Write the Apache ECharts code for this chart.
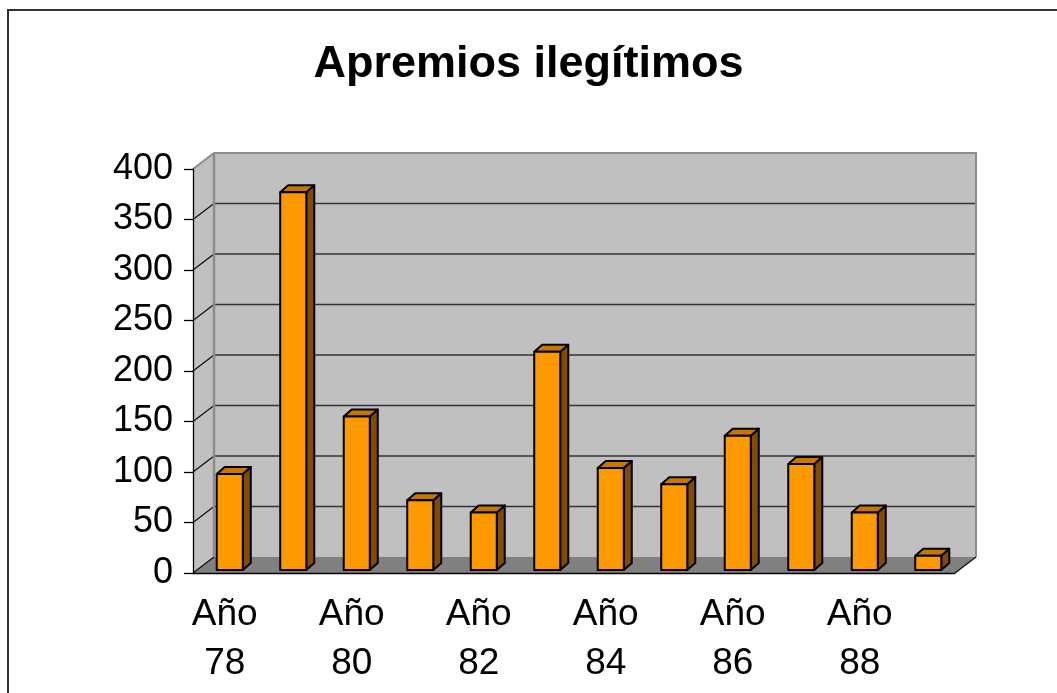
<!DOCTYPE html>
<html>
<head>
<meta charset="utf-8">
<script src="https://cdn.jsdelivr.net/npm/echarts@6/dist/echarts.min.js"></script>
<style>
  html, body { margin: 0; padding: 0; background: #fff; }
  #chart { width: 1057px; height: 693px; }
</style>
</head>
<body>
<div id="chart"></div>
<script>
// datos del gráfico
var years = ['Año 78', 'Año 79', 'Año 80', 'Año 81', 'Año 82', 'Año 83',
             'Año 84', 'Año 85', 'Año 86', 'Año 87', 'Año 88', 'Año 89'];
var apremios = [95, 374, 152, 69, 57, 216, 101, 85, 133, 105, 57, 14];
var yTicks = [0, 50, 100, 150, 200, 250, 300, 350, 400];

// desplazamiento "3D" de la pared del fondo
var DX = 21, DY = 16;

var myChart = echarts.init(document.getElementById('chart'));

function renderWall(params, api) {
  var cs = params.coordSys;
  var x = cs.x, y = cs.y, w = cs.width, h = cs.height;
  var yB = y + h;
  var kids = [];
  // pared izquierda
  kids.push({ type: 'polygon', shape: { points: [[x, y], [x + DX, y - DY], [x + DX, yB - DY], [x, yB]] },
    style: { fill: '#c0c0c0' } });
  // pared del fondo
  kids.push({ type: 'rect', shape: { x: x + DX, y: y - DY, width: w, height: h },
    style: { fill: '#c0c0c0' } });
  // suelo
  kids.push({ type: 'polygon', shape: { points: [[x, yB], [x + DX, yB - DY], [x + w + DX, yB - DY], [x + w, yB]] },
    style: { fill: '#808080' } });
  yTicks.forEach(function (v) {
    var yy = api.coord([0, v])[1];
    if (v > 0 && v < 400) {
      kids.push({ type: 'line', shape: { x1: x + DX, y1: yy - DY, x2: x + w + DX, y2: yy - DY },
        style: { stroke: '#333', lineWidth: 1.5 } });
    }
    if (v < 400) {
      kids.push({ type: 'line', shape: { x1: x, y1: yy, x2: x + DX, y2: yy - DY },
        style: { stroke: '#111', lineWidth: 1.3 } });
    }
  });
  // bordes de la pared
  kids.push({ type: 'polyline', shape: { points: [[x, y], [x + DX, y - DY], [x + w + DX, y - DY], [x + w + DX, yB - DY]] },
    style: { stroke: '#8c8c8c', lineWidth: 2, fill: null } });
  kids.push({ type: 'line', shape: { x1: x + DX, y1: y - DY, x2: x + DX, y2: yB - DY },
    style: { stroke: '#8c8c8c', lineWidth: 2.5 } });
  kids.push({ type: 'line', shape: { x1: x + w, y1: yB, x2: x + w + DX, y2: yB - DY },
    style: { stroke: '#111', lineWidth: 1.3 } });
  return { type: 'group', children: kids };
}

function renderBar(params, api) {
  var idx = api.value(0), val = api.value(1);
  var base = api.coord([idx, 0]);
  var top = api.coord([idx, val]);
  var bw = api.size([1, 0])[0] * 0.41;
  var ox = 5, oy = -3, bx = 8, by = 7;
  var x0 = base[0] - bw / 2 + ox, x1 = x0 + bw;
  var yT = top[1] + oy, yB = base[1] + oy;
  var edge = { stroke: '#000', lineWidth: 2, lineJoin: 'round' };
  return {
    type: 'group',
    children: [
      { type: 'polygon', shape: { points: [[x1, yT], [x1 + bx, yT - by], [x1 + bx, yB - by], [x1, yB]] },
        style: Object.assign({ fill: '#7f4c00' }, edge) },
      { type: 'polygon', shape: { points: [[x0, yT], [x0 + bx, yT - by], [x1 + bx, yT - by], [x1, yT]] },
        style: Object.assign({ fill: '#c47800' }, edge) },
      { type: 'rect', shape: { x: x0, y: yT, width: bw, height: yB - yT },
        style: Object.assign({ fill: '#ff9900' }, edge) }
    ]
  };
}

myChart.setOption({
  animation: false,
  title: {
    text: 'Apremios ilegítimos',
    left: 'center',
    top: 37,
    textStyle: { fontFamily: 'Liberation Sans', fontSize: 45, fontWeight: 'bold', color: '#000' }
  },
  graphic: [{
    type: 'rect',
    shape: { x: 8, y: 10, width: 1200, height: 800 },
    style: { fill: null, stroke: '#333', lineWidth: 2 }
  }],
  grid: { left: 193, right: 102, top: 169, bottom: 120 },
  xAxis: {
    type: 'category',
    data: years,
    z: 10,
    axisLine: { lineStyle: { color: '#000', width: 1.3 } },
    axisTick: { interval: 0, length: 9, lineStyle: { color: '#000', width: 1.3 } },
    axisLabel: {
      interval: 1,
      margin: 17,
      fontFamily: 'Liberation Sans',
      fontSize: 37,
      lineHeight: 49,
      color: '#000',
      formatter: function (v) { return v.replace(' ', '\n'); }
    }
  },
  yAxis: {
    type: 'value',
    min: 0,
    max: 400,
    interval: 50,
    z: 10,
    axisLine: { show: true, lineStyle: { color: '#000', width: 1.3 } },
    axisTick: { show: true, length: 9, lineStyle: { color: '#000', width: 1.3 } },
    axisLabel: { margin: 20, fontFamily: 'Liberation Sans', fontSize: 36, color: '#000' },
    splitLine: { show: false }
  },
  series: [
    {
      type: 'custom',
      z: 1,
      silent: true,
      renderItem: renderWall,
      data: [[0, 0]]
    },
    {
      type: 'custom',
      z: 3,
      renderItem: renderBar,
      encode: { x: 0, y: 1 },
      data: years.map(function (y, i) { return [i, apremios[i]]; })
    }
  ]
});
</script>
</body>
</html>
